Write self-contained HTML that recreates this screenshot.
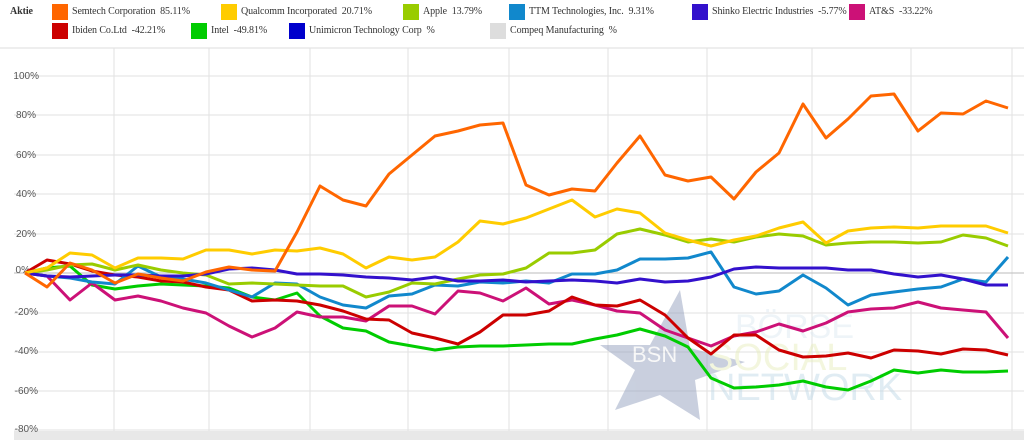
<!DOCTYPE html>
<html><head><meta charset="utf-8"><style>
body{margin:0;background:#fff;width:1024px;height:440px;overflow:hidden;font-family:"Liberation Serif",serif;}
.lg{position:absolute;font-size:10px;color:#333;white-space:nowrap;letter-spacing:-0.1px}
.sw{position:absolute;width:16px;height:16px}
</style></head><body>
<div class="lg" style="left:10px;top:6px;font-weight:bold">Aktie</div>
<div class="sw" style="left:52px;top:4px;background:#ff6600"></div><div class="lg" style="left:72px;top:6px">Semtech Corporation&nbsp; 85.11%</div>
<div class="sw" style="left:221px;top:4px;background:#ffcc00"></div><div class="lg" style="left:241px;top:6px">Qualcomm Incorporated&nbsp; 20.71%</div>
<div class="sw" style="left:403px;top:4px;background:#99cc00"></div><div class="lg" style="left:423px;top:6px">Apple&nbsp; 13.79%</div>
<div class="sw" style="left:509px;top:4px;background:#1188cc"></div><div class="lg" style="left:529px;top:6px">TTM Technologies, Inc.&nbsp; 9.31%</div>
<div class="sw" style="left:692px;top:4px;background:#3311cc"></div><div class="lg" style="left:712px;top:6px">Shinko Electric Industries&nbsp; -5.77%</div>
<div class="sw" style="left:849px;top:4px;background:#cc1177"></div><div class="lg" style="left:869px;top:6px">AT&amp;S&nbsp; -33.22%</div>
<div class="sw" style="left:52px;top:23px;background:#cc0000"></div><div class="lg" style="left:72px;top:25px">Ibiden Co.Ltd&nbsp; -42.21%</div>
<div class="sw" style="left:191px;top:23px;background:#00cc00"></div><div class="lg" style="left:211px;top:25px">Intel&nbsp; -49.81%</div>
<div class="sw" style="left:289px;top:23px;background:#0000cc"></div><div class="lg" style="left:309px;top:25px">Unimicron Technology Corp&nbsp; %</div>
<div class="sw" style="left:490px;top:23px;background:#dddddd"></div><div class="lg" style="left:510px;top:25px">Compeq Manufacturing&nbsp; %</div>
<svg width="1024" height="440" style="position:absolute;left:0;top:0">
<line x1="0" y1="48" x2="1024" y2="48" stroke="#ddd"/>
<g stroke="#e2e2e2" stroke-width="1">
<line x1="114" y1="48" x2="114" y2="440"/><line x1="209" y1="48" x2="209" y2="440"/><line x1="310" y1="48" x2="310" y2="440"/><line x1="408" y1="48" x2="408" y2="440"/><line x1="509" y1="48" x2="509" y2="440"/><line x1="608" y1="48" x2="608" y2="440"/><line x1="707" y1="48" x2="707" y2="440"/><line x1="812" y1="48" x2="812" y2="440"/><line x1="911" y1="48" x2="911" y2="440"/><line x1="1012" y1="48" x2="1012" y2="440"/>
<line x1="14" y1="76" x2="1024" y2="76"/><line x1="14" y1="115" x2="1024" y2="115"/><line x1="14" y1="155" x2="1024" y2="155"/><line x1="14" y1="194" x2="1024" y2="194"/><line x1="14" y1="234" x2="1024" y2="234"/><line x1="14" y1="273" x2="1024" y2="273" stroke="#bbb"/><line x1="14" y1="313" x2="1024" y2="313"/><line x1="14" y1="352" x2="1024" y2="352"/><line x1="14" y1="391" x2="1024" y2="391"/><line x1="14" y1="430" x2="1024" y2="430"/>
</g>
<rect x="14" y="431" width="1010" height="9" fill="#e8e8e8"/>
<g font-family="Liberation Sans, sans-serif" font-size="10" fill="#555" text-anchor="end">
<text x="39" y="79">100%</text><text x="36" y="118">80%</text><text x="36" y="158">60%</text><text x="36" y="197">40%</text><text x="36" y="237">20%</text><text x="30" y="273">0%</text><text x="38" y="315">-20%</text><text x="38" y="354">-40%</text><text x="38" y="394">-60%</text><text x="38" y="432">-80%</text>
</g>
<g opacity="0.45">
<polygon points="680,290 690,348 745,362 695,380 700,420 660,395 615,410 635,370 600,345 650,345" fill="#8896b8"/>
<text x="632" y="362" font-family="Liberation Sans,sans-serif" font-size="22" fill="#f0f0f0">BSN</text>
<text x="735" y="338" font-family="Liberation Sans,sans-serif" font-size="34" fill="#dbe8f0">BÖRSE</text>
<text x="708" y="370" font-family="Liberation Sans,sans-serif" font-size="38" fill="#e6ecb8">SOCIAL</text>
<text x="708" y="400" font-family="Liberation Sans,sans-serif" font-size="38" fill="#bcd6e6">NETWORK</text>
</g>
<g fill="none" stroke-width="3" stroke-linejoin="round">
<polyline stroke="#00cc00" points="25,273 47,268 70,266 92,285 115,289 138,286 161,284 183,285 206,286 229,288 252,297 275,300 297,293 320,316 343,328 366,331 389,342 412,346 435,350 458,347 480,346 503,346 526,345 549,344 572,344 595,339 617,335 640,329 665,336 688,347 711,378 734,388 756,387 779,385 803,381 826,387 848,390 871,381 894,370 918,373 941,370 963,372 986,372 1008,371"/>
<polyline stroke="#cc1177" points="25,273 47,276 70,300 92,283 115,300 138,296 161,301 183,308 206,313 229,326 252,337 275,328 297,312 320,317 343,317 366,321 389,306 412,306 435,314 458,291 480,293 503,301 526,288 549,304 572,300 595,305 617,311 640,313 665,330 688,338 711,346 734,336 756,332 779,324 803,331 826,323 848,312 871,309 894,308 918,302 941,308 963,310 986,312 1008,338"/>
<polyline stroke="#cc0000" points="25,273 47,260 70,264 92,271 115,275 138,277 161,281 183,282 206,287 229,290 252,301 275,300 297,301 320,305 343,311 366,319 389,320 412,333 435,338 458,344 480,332 503,315 526,315 549,311 572,297 595,305 617,306 640,300 665,315 688,338 711,354 734,335 756,335 779,350 803,357 826,356 848,353 871,358 894,350 918,351 941,354 963,349 986,350 1008,355"/>
<polyline stroke="#1188cc" points="25,273 47,276 70,278 92,282 115,284 138,266 161,277 183,279 206,283 229,290 252,297 275,283 297,284 320,297 343,305 366,308 389,296 412,294 435,285 458,286 480,282 503,283 526,281 549,283 572,274 595,274 617,270 640,259 665,259 688,258 711,252 734,287 756,294 779,291 803,275 826,288 848,305 871,295 894,292 918,289 941,287 963,279 986,282 1008,257"/>
<polyline stroke="#99cc00" points="25,273 47,270 70,265 92,264 115,270 138,265 161,270 183,273 206,275 229,284 252,283 275,284 297,285 320,286 343,286 366,297 389,292 412,283 435,284 458,279 480,275 503,274 526,268 549,253 572,253 595,250 617,234 640,229 665,235 688,242 711,239 734,242 756,237 779,234 803,236 826,245 848,243 871,242 894,242 918,243 941,242 963,235 986,238 1008,246"/>
<polyline stroke="#3311cc" points="25,273 47,276 70,277 92,276 115,275 138,275 161,276 183,276 206,274 229,269 252,268 275,270 297,274 320,274 343,275 366,277 389,278 412,280 435,277 458,281 480,281 503,280 526,282 549,281 572,280 595,281 617,283 640,279 665,282 688,281 711,277 734,269 756,267 779,268 803,268 826,268 848,270 871,270 894,274 918,277 941,275 963,279 986,285 1008,285"/>
<polyline stroke="#ffcc00" points="25,273 47,268 70,253 92,255 115,268 138,258 161,258 183,259 206,250 229,250 252,254 275,250 297,251 320,248 343,254 366,268 389,257 412,260 435,257 458,242 480,221 503,224 526,218 549,209 572,200 595,217 617,209 640,213 665,233 688,240 711,246 734,240 756,236 779,228 803,222 826,243 848,231 871,228 894,227 918,228 941,226 963,226 986,226 1008,233"/>
<polyline stroke="#ff6600" points="25,273 47,287 70,263 92,270 115,283 138,274 161,278 183,281 206,272 229,267 252,270 275,271 297,232 320,186 343,200 366,206 389,174 412,155 435,136 458,131 480,125 503,123 526,185 549,195 572,189 595,191 617,163 640,136 665,175 688,181 711,177 734,199 756,172 779,153 803,104 826,138 848,119 871,96 894,94 918,131 941,113 963,114 986,101 1008,108"/>
</g>
</svg>
</body></html>
